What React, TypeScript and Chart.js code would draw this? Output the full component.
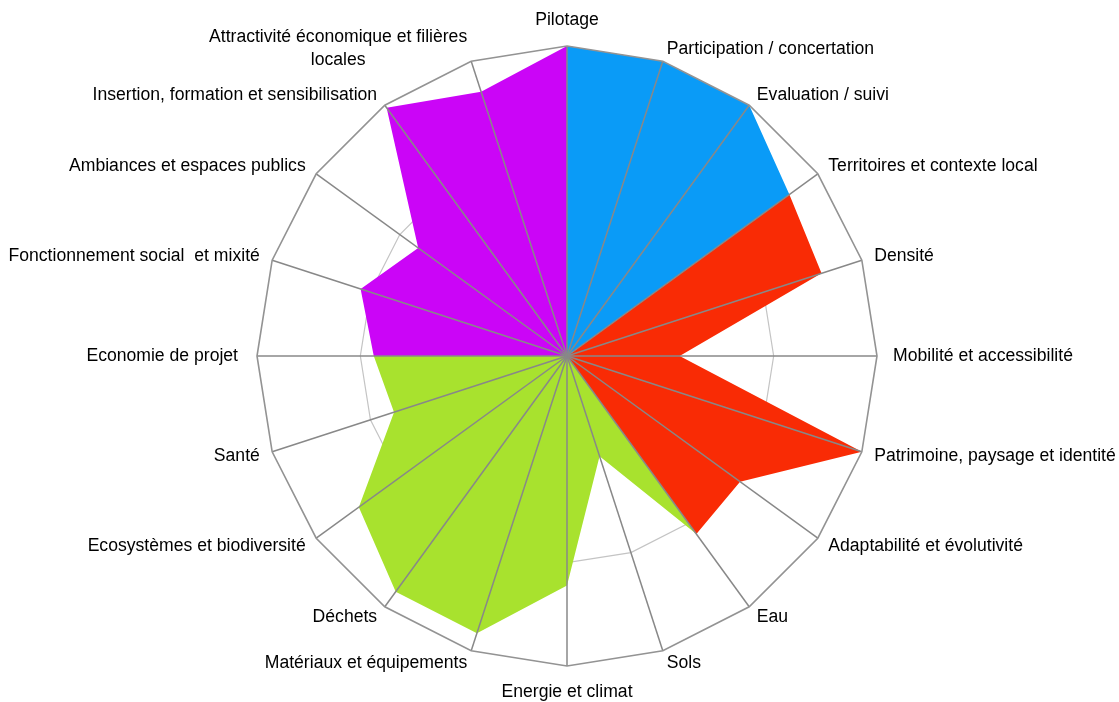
import React, { useEffect, useRef } from "react";
import { Chart, registerables } from "chart.js";

Chart.register(...registerables);

const categories: (string | string[])[] = [
  "Pilotage",
  "Participation / concertation",
  "Evaluation / suivi",
  "Territoires et contexte local",
  "Densité",
  "Mobilité et accessibilité",
  "Patrimoine, paysage et identité",
  "Adaptabilité et évolutivité",
  "Eau",
  "Sols",
  "Energie et climat",
  "Matériaux et équipements",
  "Déchets",
  "Ecosystèmes et biodiversité",
  "Santé",
  "Economie de projet",
  "Fonctionnement social  et mixité",
  "Ambiances et espaces publics",
  "Insertion, formation et sensibilisation",
  ["Attractivité économique et filières", "locales"],
];

// One series per thematic group (0 = outside the group, drawn at the centre)
const blueSeries = [3, 3, 3, 2.66, 0, 0, 0, 0, 0, 0, 0, 0, 0, 0, 0, 0, 0, 0, 0, 0];
const redSeries = [0, 0, 0, 2.66, 2.59, 1.09, 3, 2.07, 2.13, 0, 0, 0, 0, 0, 0, 0, 0, 0, 0, 0];
const greenSeries = [0, 0, 0, 0, 0, 0, 0, 0, 2.13, 1.02, 2.22, 2.82, 2.82, 2.49, 1.76, 1.87, 0, 0, 0, 0];
const purpleSeries = [3, 0, 0, 0, 0, 0, 0, 0, 0, 0, 0, 0, 0, 0, 0, 1.87, 2.1, 1.78, 2.97, 2.69];

const scaleMax = 3;
const innerGridValue = 2;

const overlayPlugin = {
  id: "overlay",
  afterDatasetsDraw(chart: any) {
    const scale = chart.scales.r;
    const ctx = chart.ctx;
    const n = chart.data.labels.length;
    ctx.save();
    // spokes
    ctx.strokeStyle = "#888888";
    ctx.lineWidth = 1.5;
    for (let i = 0; i < n; i++) {
      const p = scale.getPointPositionForValue(i, scaleMax);
      ctx.beginPath();
      ctx.moveTo(scale.xCenter, scale.yCenter);
      ctx.lineTo(p.x, p.y);
      ctx.stroke();
    }
    // outer polygon
    ctx.strokeStyle = "#939393";
    ctx.lineWidth = 1.6;
    ctx.beginPath();
    for (let i = 0; i < n; i++) {
      const p = scale.getPointPositionForValue(i, scaleMax);
      if (i === 0) ctx.moveTo(p.x, p.y);
      else ctx.lineTo(p.x, p.y);
    }
    ctx.closePath();
    ctx.stroke();
    ctx.restore();
  },
  afterDraw(chart: any) {
    const scale = chart.scales.r;
    const ctx = chart.ctx;
    const labels = chart.data.labels;
    const n = labels.length;
    const R = scale.drawingArea;
    ctx.save();
    ctx.font = '17.6px "Liberation Sans", Arial, sans-serif';
    ctx.fillStyle = "#000";
    ctx.textBaseline = "middle";
    const lineH = 23;
    for (let i = 0; i < n; i++) {
      const deg = (i * 360) / n;
      let pad = 13;
      if (deg === 0 || deg === 180) pad = 26;
      if (deg === 90) pad = 16;
      if (deg === 270) pad = 19;
      const pos = scale.getPointPosition(i, R + pad);
      const lab = labels[i];
      const lines: string[] = Array.isArray(lab) ? lab : [lab];
      if (lines.length > 1) {
        const w = Math.max(...lines.map((l) => ctx.measureText(l).width));
        const cx = deg > 180 ? pos.x - w / 2 : pos.x + w / 2;
        ctx.textAlign = "center";
        lines.forEach((l, k) => {
          ctx.fillText(l, cx, pos.y + (k - (lines.length - 1) / 2) * lineH);
        });
      } else {
        ctx.textAlign = deg === 0 || deg === 180 ? "center" : deg < 180 ? "left" : "right";
        ctx.fillText(lines[0], pos.x, pos.y);
      }
    }
    ctx.restore();
  },
};

export default function App() {
  const canvasRef = useRef<HTMLCanvasElement | null>(null);

  useEffect(() => {
    if (!canvasRef.current) return;
    const mk = (data: number[], color: string) => ({
      data,
      backgroundColor: color,
      borderWidth: 0,
      borderColor: color,
      pointRadius: 0,
      pointHoverRadius: 0,
      fill: "origin" as const,
    });
    const chart = new Chart(canvasRef.current, {
      type: "radar",
      data: {
        labels: categories as any,
        datasets: [
          mk(blueSeries, "#0a9bf7"),
          mk(redSeries, "#f92b05"),
          mk(greenSeries, "#a8e22e"),
          mk(purpleSeries, "#cb05f7"),
        ],
      },
      options: {
        animation: false,
        responsive: true,
        maintainAspectRatio: false,
        layout: { padding: { left: 15, right: 0, top: 46, bottom: 36 } },
        plugins: { legend: { display: false }, tooltip: { enabled: false } },
        elements: { line: { tension: 0 } },
        scales: {
          r: {
            min: 0,
            max: scaleMax,
            ticks: { display: false, stepSize: 1 },
            pointLabels: { display: false },
            angleLines: { display: false },
            grid: {
              circular: false,
              lineWidth: 1.2,
              color: (c: any) => (c.tick && c.tick.value === innerGridValue ? "#c4c4c4" : "rgba(0,0,0,0)"),
            },
          },
        },
      },
      plugins: [overlayPlugin],
    });
    return () => chart.destroy();
  }, []);

  return (
    <div style={{ position: "fixed", left: 0, top: 0, width: 1119, height: 702, background: "#fff" }}>
      <canvas ref={canvasRef} />
    </div>
  );
}
